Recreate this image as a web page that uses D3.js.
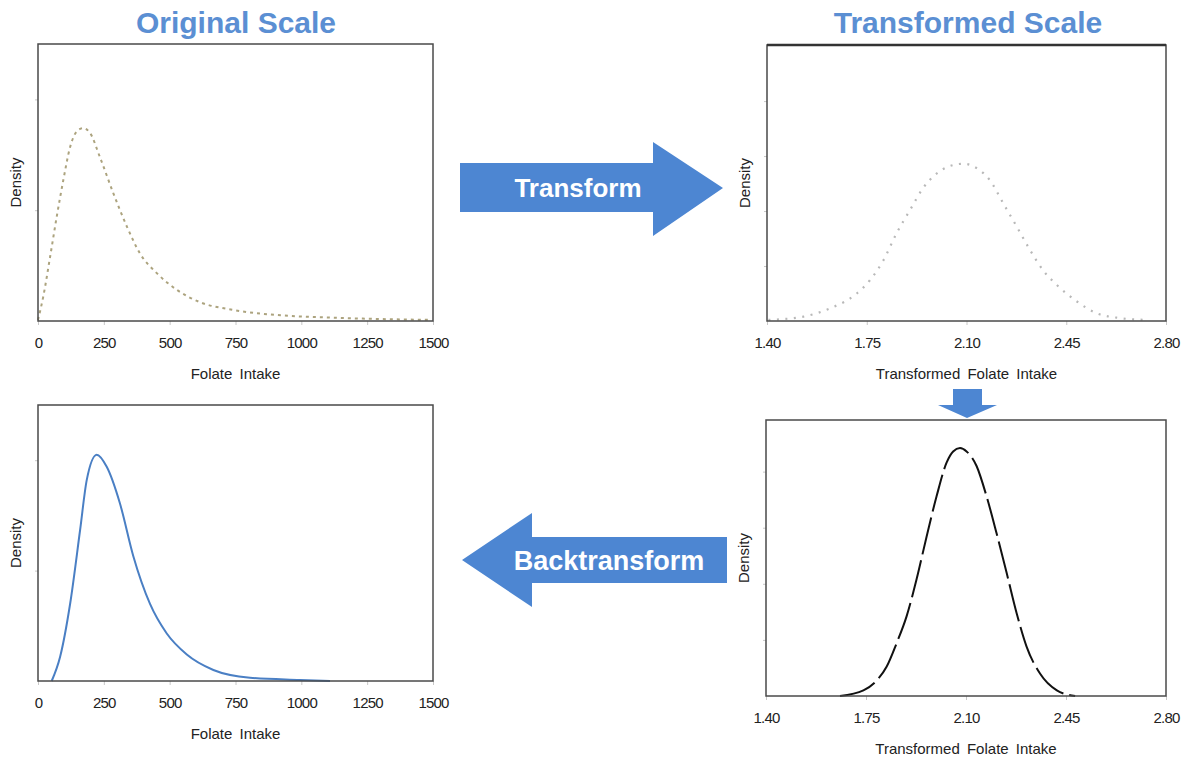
<!DOCTYPE html>
<html>
<head>
<meta charset="utf-8">
<script src="https://cdn.jsdelivr.net/npm/d3@7"></script>
<style>
  body { margin: 0; background: #fff; }
  svg { display: block; font-family: "Liberation Sans", Arial, sans-serif; }
  .tick text { fill: #222; font-size: 15px; letter-spacing: -0.8px; }
  .tick line { stroke: #c8c8c8; }
  .axis-label { fill: #222; font-size: 15px; word-spacing: 3px; }
  .title { fill: #5b8fd3; font-weight: bold; font-size: 30px; text-anchor: middle; }
  .arrow-text { fill: #fff; font-weight: bold; text-anchor: middle; }
</style>
</head>
<body>
<svg id="chart" width="1189" height="760"></svg>
<script>
// density curves
const ORIG_X    = [0, 20, 46, 71, 96, 122, 147, 172, 197, 235, 285, 338, 387, 452, 528, 615, 741, 930, 1120, 1489];
const ORIG_DENS = [0.00001, 0.00022, 0.00058, 0.00094, 0.00127, 0.00157, 0.00171, 0.00174, 0.00170, 0.00148,
                   0.00116, 0.00085, 0.00061, 0.00043, 0.00028, 0.00017, 0.00010, 0.00005, 0.00003, 0.00001];

const TRANS_X    = [1.405, 1.528, 1.621, 1.715, 1.761, 1.808, 1.855, 1.902, 1.948, 1.995, 2.042, 2.089,
                    2.136, 2.182, 2.229, 2.276, 2.322, 2.369, 2.416, 2.486, 2.557, 2.627, 2.732];
const TRANS_DENS = [0.01, 0.04, 0.115, 0.25, 0.37, 0.55, 0.80, 1.01, 1.21, 1.34, 1.41, 1.43,
                    1.39, 1.28, 1.07, 0.86, 0.65, 0.46, 0.33, 0.18, 0.07, 0.03, 0.01];

const FIT_X    = [1.659, 1.741, 1.788, 1.822, 1.857, 1.892, 1.927, 1.962, 1.997, 2.032, 2.055, 2.079,
                  2.102, 2.137, 2.172, 2.207, 2.242, 2.277, 2.312, 2.359, 2.418, 2.482];
const FIT_DENS = [0, 0.05, 0.14, 0.26, 0.47, 0.71, 1.04, 1.42, 1.78, 2.08, 2.18, 2.21,
                  2.18, 2.05, 1.78, 1.45, 1.10, 0.74, 0.44, 0.20, 0.05, 0];

const BACK_X    = [52, 84, 122, 160, 185, 223, 261, 311, 362, 425, 489, 565, 666, 805, 995, 1109];
const BACK_DENS = [0, 0.00022, 0.00070, 0.00137, 0.00182, 0.00205, 0.00194, 0.00161, 0.00113,
                   0.00070, 0.00043, 0.00024, 0.00010, 0.00003, 0.00001, 0];

const ORIG_TICKS  = [0, 250, 500, 750, 1000, 1250, 1500];
const TRANS_TICKS = [1.40, 1.75, 2.10, 2.45, 2.80];
const ORIG_YTICKS  = [0.001, 0.002];
const TRANS_YTICKS = [0.5, 1.0, 1.5, 2.0];

const TITLES = ["Original Scale", "Transformed Scale"];
const X_LABELS = ["Folate  Intake", "Transformed  Folate  Intake"];
const ARROW_LABELS = ["Transform", "Backtransform"];

const svg = d3.select("#chart");
const zip = (xs, ys) => xs.map((x, i) => ({x, y: ys[i]}));

// one framed density panel
function panel(box, xDomain, yMax, xTicks, yTicks, fmt, xLabel, data, style){
  const x = d3.scaleLinear().domain(xDomain).range([box.x0, box.x1]);
  const y = d3.scaleLinear().domain([0, yMax]).range([box.y1, box.y0]);
  const g = svg.append("g");

  g.append("g").attr("transform", `translate(0,${box.y1})`)
    .call(d3.axisBottom(x).tickValues(xTicks).tickFormat(fmt).tickSize(4).tickPadding(12))
    .call(a => a.select(".domain").remove());
  g.append("g").attr("transform", `translate(${box.x0},0)`)
    .call(d3.axisLeft(y).tickValues(yTicks).tickSize(3).tickFormat(""))
    .call(a => a.select(".domain").remove())
    .call(a => a.selectAll(".tick line").attr("stroke", "#e2e2e2"));

  const line = d3.line().x(d => x(d.x)).y(d => y(d.y)).curve(d3.curveMonotoneX);
  g.append("path").datum(data)
    .attr("fill", "none")
    .attr("stroke", style.color)
    .attr("stroke-width", style.width)
    .attr("stroke-dasharray", style.dash)
    .attr("d", line);

  g.append("rect")
    .attr("x", box.x0).attr("y", box.y0)
    .attr("width", box.x1 - box.x0).attr("height", box.y1 - box.y0)
    .attr("fill", "none").attr("stroke", "#4a4a4a").attr("stroke-width", 1.5);
  if (style.thickTop) {
    g.append("line").attr("x1", box.x0).attr("x2", box.x1)
      .attr("y1", box.y0).attr("y2", box.y0)
      .attr("stroke", "#333").attr("stroke-width", 2.5);
  }

  g.append("text").attr("class", "axis-label").attr("text-anchor", "middle")
    .attr("x", (box.x0 + box.x1) / 2).attr("y", box.y1 + 58).text(xLabel);
  g.append("text").attr("class", "axis-label").attr("text-anchor", "middle")
    .attr("transform", `translate(${box.x0 - 17},${(box.y0 + box.y1) / 2}) rotate(-90)`)
    .text("Density");
}

const fmtInt = d3.format("d"), fmt2 = d3.format(".2f");

panel({x0: 38, x1: 433, y0: 44, y1: 321}, [0, 1500], 0.0025, ORIG_TICKS, ORIG_YTICKS, fmtInt,
      X_LABELS[0], zip(ORIG_X, ORIG_DENS), {color: "#aca37e", width: 2, dash: "3,4"});
panel({x0: 767, x1: 1166, y0: 45, y1: 321}, [1.4, 2.8], 2.51, TRANS_TICKS, TRANS_YTICKS, fmt2,
      X_LABELS[1], zip(TRANS_X, TRANS_DENS), {color: "#b8b8b8", width: 2.2, dash: "2,6.5", thickTop: true});
panel({x0: 38, x1: 433, y0: 405, y1: 681}, [0, 1500], 0.0025, ORIG_TICKS, ORIG_YTICKS, fmtInt,
      X_LABELS[0], zip(BACK_X, BACK_DENS), {color: "#4a7fc4", width: 2, dash: null});
panel({x0: 766, x1: 1166, y0: 420, y1: 696}, [1.4, 2.8], 2.46, TRANS_TICKS, TRANS_YTICKS, fmt2,
      X_LABELS[1], zip(FIT_X, FIT_DENS), {color: "#111", width: 2, dash: "38,6"});

// titles
svg.append("text").attr("class", "title").attr("x", 236).attr("y", 33).text(TITLES[0]);
svg.append("text").attr("class", "title").attr("x", 968).attr("y", 33).text(TITLES[1]);

// block arrows
const ARROW_FILL = "#4d86d2";
svg.append("path").attr("fill", ARROW_FILL)
  .attr("d", "M460,163 L653,163 L653,142 L723,188 L653,236 L653,212 L460,212 Z");
svg.append("text").attr("class", "arrow-text").style("font-size", "26px")
  .attr("x", 578).attr("y", 197).text(ARROW_LABELS[0]);

svg.append("path").attr("fill", ARROW_FILL)
  .attr("d", "M727,537 L532,537 L532,513 L462,560 L532,607 L532,583 L727,583 Z");
svg.append("text").attr("class", "arrow-text").style("font-size", "27px")
  .attr("x", 609).attr("y", 570).text(ARROW_LABELS[1]);

svg.append("path").attr("fill", ARROW_FILL)
  .attr("d", "M953,389 L982,389 L982,405 L997,405 L967,418 L938,405 L953,405 Z");
</script>
</body>
</html>
